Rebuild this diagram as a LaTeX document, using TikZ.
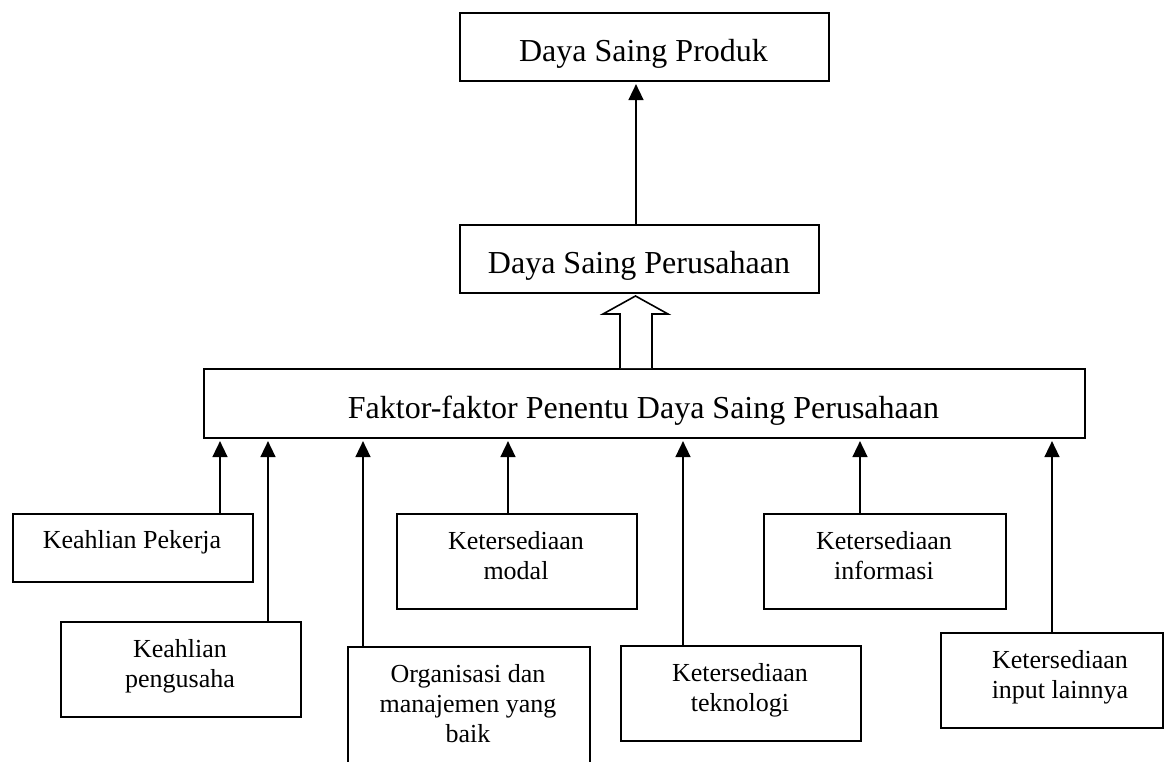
\documentclass[tikz,border=0pt]{standalone}
\usepackage{fontspec}
\setmainfont{Liberation Serif}
\usetikzlibrary{arrows.meta}
\begin{document}
\begin{tikzpicture}[x=1pt,y=-1pt,
  box/.style={draw, line width=1.6pt, inner sep=0pt, anchor=north west},
  bigtxt/.style={font=\fontsize{32}{36}\selectfont, inner sep=0pt, anchor=base},
  smalltxt/.style={font=\fontsize{26}{30}\selectfont, inner sep=0pt, anchor=north, align=center},
  arr/.style={line width=1.6pt, -{Triangle[length=16pt,width=15pt]}, shorten >=2.5pt},
  hollow/.style={line width=1.6pt, fill=white, line join=miter}]
\useasboundingbox[fill=white] (0,0) rectangle (1171,762);

% main boxes
\node[box, minimum width=369pt, minimum height=68pt] (prod) at (459,12) {};
\node[bigtxt] (tprod) at (643.5,62) {Daya Saing Produk};
\node[box, minimum width=359pt, minimum height=68pt] (pers) at (459,224) {};
\node[bigtxt] (tpers) at (639,274) {Daya Saing Perusahaan};
\node[box, minimum width=881pt, minimum height=69pt] (faktor) at (203,368) {};
\node[bigtxt] (tfaktor) at (643.5,418) {Faktor-faktor Penentu Daya Saing Perusahaan};

% factor boxes
\node[box, minimum width=240pt, minimum height=68pt] (kp) at (12,513) {};
\node[smalltxt] (tkp) at (132,530.2) {Keahlian Pekerja};
\node[box, minimum width=240pt, minimum height=95pt] (ku) at (60,621) {};
\node[smalltxt] (tku) at (180,639.2) {Keahlian\\pengusaha};
\node[box, minimum width=242pt, minimum height=160pt] (org) at (347,646) {};
\node[smalltxt] (torg) at (468,664.2) {Organisasi dan\\manajemen yang\\baik};
\node[box, minimum width=240pt, minimum height=95pt] (mod) at (396,513) {};
\node[smalltxt] (tmod) at (516,531.2) {Ketersediaan\\modal};
\node[box, minimum width=240pt, minimum height=95pt] (tek) at (620,645) {};
\node[smalltxt] (ttek) at (740,663.2) {Ketersediaan\\teknologi};
\node[box, minimum width=242pt, minimum height=95pt] (inf) at (763,513) {};
\node[smalltxt] (tinf) at (884,531.2) {Ketersediaan\\informasi};
\node[box, minimum width=222pt, minimum height=95pt] (inp) at (940,632) {};
\node[smalltxt] (tinp) at (1060,650.2) {Ketersediaan\\input lainnya};

% connectors
\draw[arr] (pers.north -| 636,0) -- (prod.south -| 636,0);
\draw[hollow] (faktor.north -| 620,0) -- (620,314) -- (603,314) -- (635.5,296)
  -- (668,314) -- (652,314) -- (faktor.north -| 652,0);
\draw[arr] (kp.north -| 220,0) -- (faktor.south -| 220,0);
\draw[arr] (ku.north -| 268,0) -- (faktor.south -| 268,0);
\draw[arr] (org.north -| 363,0) -- (faktor.south -| 363,0);
\draw[arr] (mod.north -| 508,0) -- (faktor.south -| 508,0);
\draw[arr] (tek.north -| 683,0) -- (faktor.south -| 683,0);
\draw[arr] (inf.north -| 860,0) -- (faktor.south -| 860,0);
\draw[arr] (inp.north -| 1052,0) -- (faktor.south -| 1052,0);
\end{tikzpicture}
\end{document}
